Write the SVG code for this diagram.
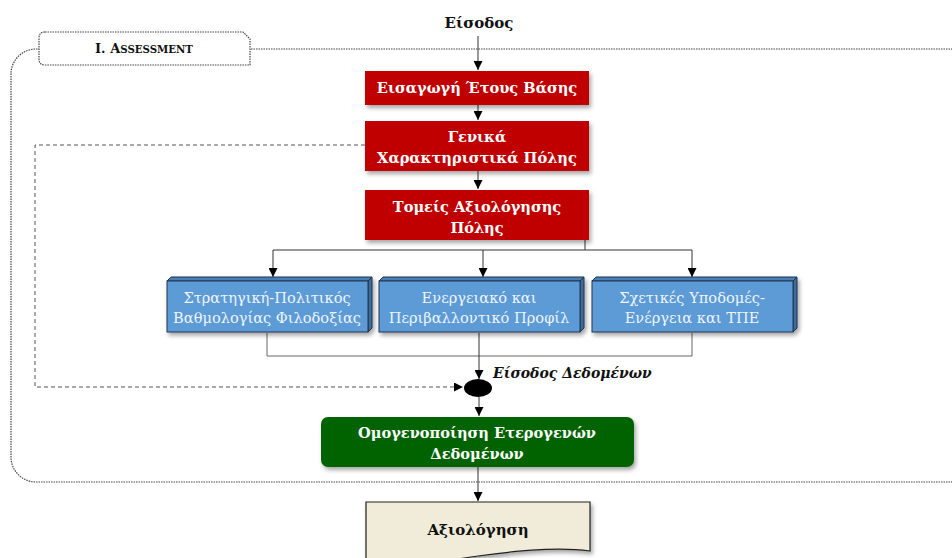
<svg xmlns="http://www.w3.org/2000/svg" width="952" height="558" viewBox="0 0 952 558">
<style>
.t{font-family:"DejaVu Serif","Liberation Serif",serif;text-anchor:middle}
.wb{fill:#fff;font-weight:bold;font-size:14.6px}
.bl{fill:#eef4fb;font-size:14.6px}
.ln{fill:none;stroke:#333;stroke-width:1}
.lg{fill:none;stroke:#666;stroke-width:1}
.red{fill:#c00000}
</style>
<defs>
<marker id="ah" viewBox="0 0 10 10" refX="10" refY="5" markerWidth="9" markerHeight="9" markerUnits="userSpaceOnUse" orient="auto"><path d="M0,0L10,5L0,10Z" fill="#000"/></marker>
<filter id="sh" x="-10%" y="-20%" width="125%" height="150%"><feDropShadow dx="2" dy="3" stdDeviation="2" flood-color="#000" flood-opacity="0.35"/></filter>
</defs>
<g id="assessment-frame">
<rect x="11" y="49" width="964" height="433" rx="25" ry="25" fill="none" stroke="#444" stroke-width="1.2" stroke-dasharray="1.5,1"/>
<path d="M45,32 H243 L250,39 V65 H45 Q39,65 39,59 V38 Q39,32 45,32 Z" fill="#fff" stroke="#444" stroke-width="1.2" stroke-dasharray="1.5,1"/>
<text class="t" x="144" y="53" style="font-weight:bold;font-size:13px;fill:#111">I. A<tspan style="font-size:10.2px">SSESSMENT</tspan></text>
</g>
<g id="connectors">
<line class="ln" x1="478" y1="36" x2="478" y2="70" marker-end="url(#ah)"/>
<line class="ln" x1="478" y1="105" x2="478" y2="120" marker-end="url(#ah)"/>
<line class="ln" x1="478" y1="171" x2="478" y2="189" marker-end="url(#ah)"/>
<polyline class="ln" points="585,240 585,250 273,250 273,277" marker-end="url(#ah)"/>
<line class="ln" x1="483" y1="250" x2="483" y2="277" marker-end="url(#ah)"/>
<polyline class="ln" points="585,250 692,250 692,277" marker-end="url(#ah)"/>
<polyline class="lg" points="267,333 267,356 692,356 692,333"/>
<line class="ln" x1="479" y1="333" x2="479" y2="379" marker-end="url(#ah)"/>
<polyline fill="none" stroke="#555" stroke-width="1" stroke-dasharray="4,3" points="365,145 35,145 35,387 463,387" marker-end="url(#ah)"/>
<line class="ln" x1="479" y1="397" x2="479" y2="416" marker-end="url(#ah)"/>
<line class="ln" x1="478" y1="467" x2="478" y2="501" marker-end="url(#ah)"/>
</g>
<g id="input">
<text class="t" x="479" y="28" style="font-weight:bold;font-size:15px;fill:#111">Είσοδος</text>
</g>
<g id="base-year">
<rect class="red" x="365" y="71" width="224" height="34" filter="url(#sh)"/>
<text class="t wb" x="477" y="93">Εισαγωγή Έτους Βάσης</text>
</g>
<g id="city-characteristics">
<rect class="red" x="365" y="121" width="224" height="50" filter="url(#sh)"/>
<text class="t wb" x="477" y="142">Γενικά</text>
<text class="t wb" x="477" y="163">Χαρακτηριστικά Πόλης</text>
</g>
<g id="assessment-sectors">
<rect class="red" x="365" y="190" width="224" height="50" filter="url(#sh)"/>
<text class="t wb" x="477" y="212">Τομείς Αξιολόγησης</text>
<text class="t wb" x="477" y="233">Πόλης</text>
</g>
<g id="strategy">
<g filter="url(#sh)">
<path d="M167,281 L171,277 H372 L368,281 Z" fill="#4a7fb3" stroke="#1f3550" stroke-width="1"/>
<path d="M368,281 L372,277 V328 L368,332 Z" fill="#3d6c9a" stroke="#1f3550" stroke-width="1"/>
<rect x="167" y="281" width="201" height="51" fill="#5b9bd5" stroke="#1f3550" stroke-width="1"/>
</g>
<text class="t bl" x="267" y="303">Στρατηγική-Πολιτικός</text>
<text class="t bl" x="267" y="323">Βαθμολογίας Φιλοδοξίας</text>
</g>
<g id="energy-profile">
<g filter="url(#sh)">
<path d="M379,281 L383,277 H584 L580,281 Z" fill="#4a7fb3" stroke="#1f3550" stroke-width="1"/>
<path d="M580,281 L584,277 V328 L580,332 Z" fill="#3d6c9a" stroke="#1f3550" stroke-width="1"/>
<rect x="379" y="281" width="201" height="51" fill="#5b9bd5" stroke="#1f3550" stroke-width="1"/>
</g>
<text class="t bl" x="479" y="303">Ενεργειακό και</text>
<text class="t bl" x="479" y="323">Περιβαλλοντικό Προφίλ</text>
</g>
<g id="infrastructure">
<g filter="url(#sh)">
<path d="M592,281 L596,277 H797 L793,281 Z" fill="#4a7fb3" stroke="#1f3550" stroke-width="1"/>
<path d="M793,281 L797,277 V328 L793,332 Z" fill="#3d6c9a" stroke="#1f3550" stroke-width="1"/>
<rect x="592" y="281" width="201" height="51" fill="#5b9bd5" stroke="#1f3550" stroke-width="1"/>
</g>
<text class="t bl" x="692" y="303">Σχετικές Υποδομές-</text>
<text class="t bl" x="692" y="323">Ενέργεια και ΤΠΕ</text>
</g>
<g id="data-input">
<ellipse cx="478" cy="388" rx="14" ry="9" fill="#000"/>
<text class="t" x="493" y="378" style="text-anchor:start;font-weight:bold;font-style:italic;font-size:14px;fill:#111">Είσοδος Δεδομένων</text>
</g>
<g id="homogenization">
<rect x="321" y="417" width="313" height="50" rx="7" fill="#006400" filter="url(#sh)"/>
<text class="t wb" x="477" y="438">Ομογενοποίηση Ετερογενών</text>
<text class="t wb" x="477" y="459">Δεδομένων</text>
</g>
<g id="evaluation">
<path d="M366,502 H590 V551 C560,547 520,550 478,556 C440,562 400,566 366,566 Z" fill="#f0ecd9" stroke="#222" stroke-width="1.2" filter="url(#sh)"/>
<text class="t" x="478" y="535" style="font-weight:bold;font-size:15px;fill:#111">Αξιολόγηση</text>
</g>
</svg>
